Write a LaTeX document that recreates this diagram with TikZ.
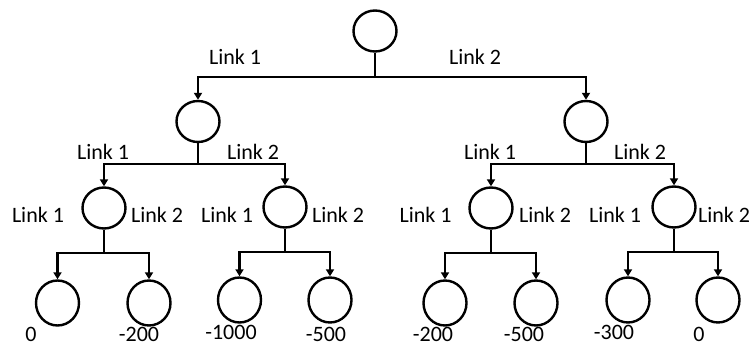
\documentclass[tikz,border=0pt]{standalone}
\usepackage{fontspec}
\setmainfont{Carlito}
\usetikzlibrary{shapes.geometric,arrows.meta}
\begin{document}
\begin{tikzpicture}[x=1pt,y=1pt,
  st/.style={draw=black,line width=2.4pt,ellipse,inner sep=0pt,minimum width=43pt,minimum height=41pt},
  lf/.style={st,minimum width=43pt,minimum height=45pt},
  lab/.style={inner sep=0pt,font=\fontsize{22}{26}\selectfont},
  ln/.style={line width=2.4pt},
  ar/.style={line width=2.4pt,-{Triangle[width=8pt,length=7pt]}}]
\useasboundingbox (0,0) rectangle (752,346);
% nodes
\node[st] (r) at (375,315) {};
\node[st] (a) at (198,224.5) {};
\node[st] (b) at (586,224.5) {};
\node[st] (a1) at (104,138) {};
\node[st] (a2) at (285,139) {};
\node[st] (b1) at (491,138) {};
\node[st] (b2) at (674,139) {};
\node[lf] (l1) at (57.5,43) {};
\node[lf] (l2) at (149,43) {};
\node[lf] (l3) at (239.5,46) {};
\node[lf] (l4) at (330,46) {};
\node[lf] (l5) at (445,43) {};
\node[lf] (l6) at (536,43) {};
\node[lf] (l7) at (628,46) {};
\node[lf] (l8) at (718,46) {};
% bar coordinates
\coordinate (rb) at (375,269);
\coordinate (ab) at (198,182);
\coordinate (bb) at (586,182);
\coordinate (a1b) at (104,93);
\coordinate (a2b) at (285,94);
\coordinate (b1b) at (491,93);
\coordinate (b2b) at (674,94);
% connectors
\foreach \p/\c/\d in {r/a/b,a/a1/a2,b/b1/b2,a1/l1/l2,a2/l3/l4,b1/l5/l6,b2/l7/l8}{
  \draw[ln] (\p.south) -- (\p b);
  \draw[ar] (\p b) -| (\c.north);
  \draw[ar] (\p b) -| (\d.north);
}
% labels
\node[lab] (t1) at (235,289) {Link 1};
\node[lab] (t2) at (475,289) {Link 2};
\node[lab] (t3) at (103,194) {Link 1};
\node[lab] (t4) at (253,194) {Link 2};
\node[lab] (t5) at (490,194) {Link 1};
\node[lab] (t6) at (640,194) {Link 2};
\node[lab] (t7) at (38,131) {Link 1};
\node[lab] (t8) at (157,131) {Link 2};
\node[lab] (t9) at (227,131) {Link 1};
\node[lab] (t10) at (338,131) {Link 2};
\node[lab] (t11) at (425.5,131) {Link 1};
\node[lab] (t12) at (545,131) {Link 2};
\node[lab] (t13) at (615,131) {Link 1};
\node[lab] (t14) at (724,131) {Link 2};
\node[lab] (v1) at (31,12) {0};
\node[lab] (v2) at (139,12) {-200};
\node[lab] (v3) at (231,14) {-1000};
\node[lab] (v4) at (326,12) {-500};
\node[lab] (v5) at (433,12) {-200};
\node[lab] (v6) at (524,12) {-500};
\node[lab] (v7) at (614,14) {-300};
\node[lab] (v8) at (699,12) {0};
\end{tikzpicture}
\end{document}
